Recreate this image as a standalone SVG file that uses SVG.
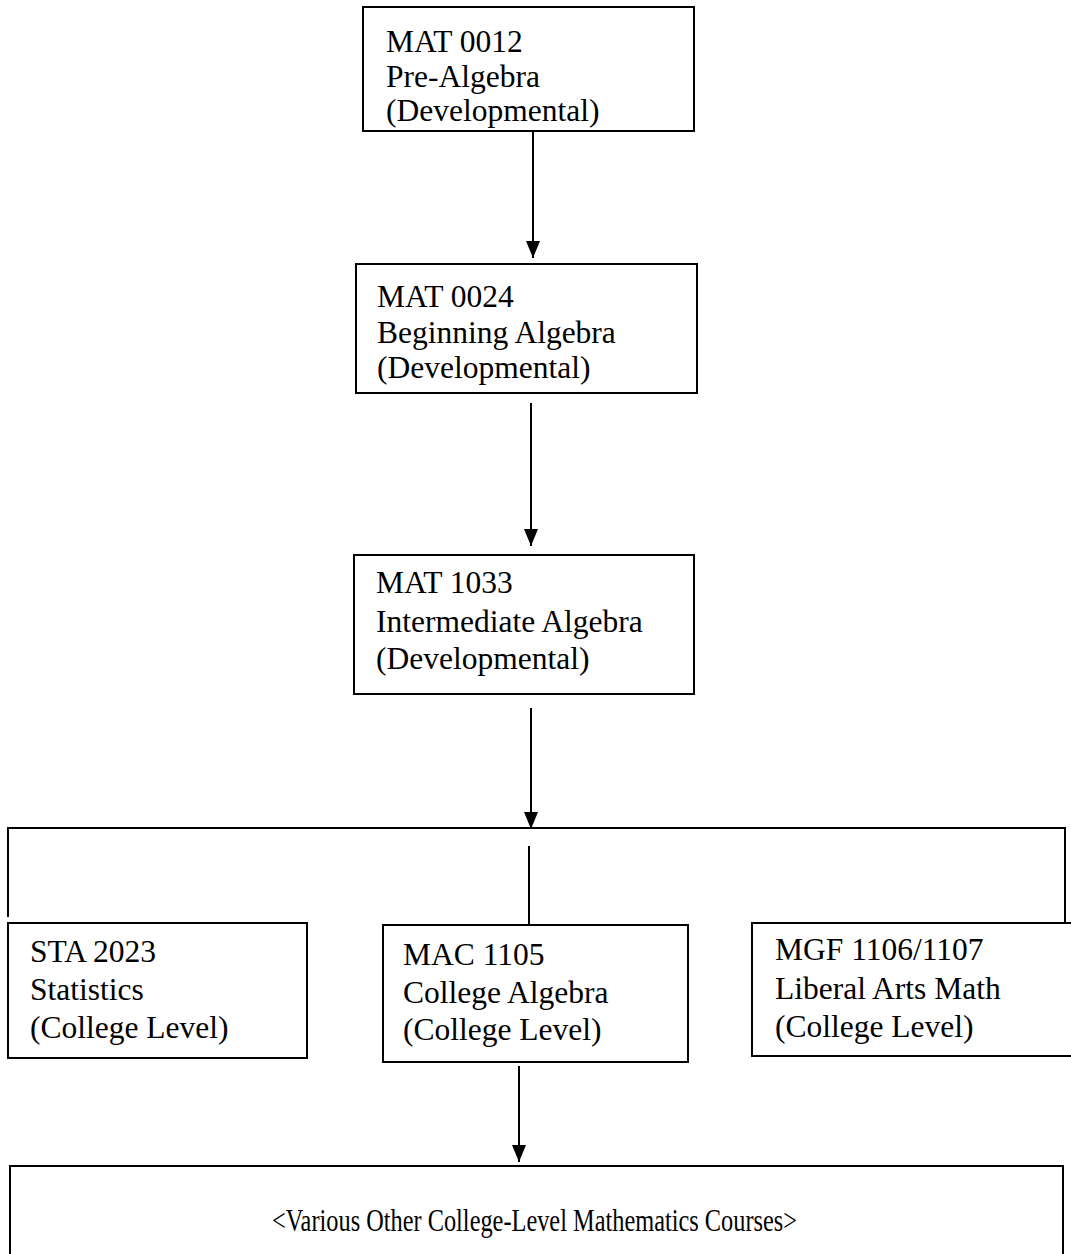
<svg xmlns="http://www.w3.org/2000/svg" width="1071" height="1254" viewBox="0 0 1071 1254">
<defs>
<marker id="ah" markerWidth="18" markerHeight="16" refX="17" refY="7" orient="auto" markerUnits="userSpaceOnUse">
<path d="M0,0 L17,7 L0,14 Z" fill="#000"/>
</marker>
<style>
.box{fill:#fff;stroke:#000;stroke-width:2}
.t{font-family:"Liberation Serif","Times New Roman",serif;font-size:31.5px;fill:#000}
.c{stroke:#000;stroke-width:2;fill:none}
</style>
</defs>
<rect width="1071" height="1254" fill="#fff"/>
<g id="connectors">
<line class="c" x1="533" y1="131" x2="533" y2="258" marker-end="url(#ah)"/>
<line class="c" x1="531" y1="403" x2="531" y2="546" marker-end="url(#ah)"/>
<line class="c" x1="531" y1="708" x2="531" y2="829" marker-end="url(#ah)"/>
<polyline class="c" points="8,917 8,828 1065,828 1065,922"/>
<line class="c" x1="529" y1="846" x2="529" y2="925"/>
<line class="c" x1="519" y1="1066" x2="519" y2="1162" marker-end="url(#ah)"/>
</g>
<g id="mat0012">
<rect class="box" x="363" y="7" width="331" height="124"/>
<text class="t" x="386" y="52">MAT 0012</text>
<text class="t" x="386" y="87">Pre-Algebra</text>
<text class="t" x="386" y="121">(Developmental)</text>
</g>
<g id="mat0024">
<rect class="box" x="356" y="264" width="341" height="129"/>
<text class="t" x="377" y="307">MAT 0024</text>
<text class="t" x="377" y="343">Beginning Algebra</text>
<text class="t" x="377" y="378">(Developmental)</text>
</g>
<g id="mat1033">
<rect class="box" x="354" y="555" width="340" height="139"/>
<text class="t" x="376" y="593">MAT 1033</text>
<text class="t" x="376" y="632">Intermediate Algebra</text>
<text class="t" x="376" y="669">(Developmental)</text>
</g>
<g id="sta2023">
<rect class="box" x="8" y="923" width="299" height="135"/>
<text class="t" x="30" y="962">STA 2023</text>
<text class="t" x="30" y="1000">Statistics</text>
<text class="t" x="30" y="1038">(College Level)</text>
</g>
<g id="mac1105">
<rect class="box" x="383" y="925" width="305" height="137"/>
<text class="t" x="403" y="965">MAC 1105</text>
<text class="t" x="403" y="1003">College Algebra</text>
<text class="t" x="403" y="1040">(College Level)</text>
</g>
<g id="mgf1106">
<rect class="box" x="752" y="923" width="340" height="133"/>
<text class="t" x="775" y="960">MGF 1106/1107</text>
<text class="t" x="775" y="999">Liberal Arts Math</text>
<text class="t" x="775" y="1037">(College Level)</text>
</g>
<g id="other">
<rect class="box" x="10" y="1166" width="1053" height="120"/>
<text class="t" x="272" y="1231" textLength="525" lengthAdjust="spacingAndGlyphs">&lt;Various Other College-Level Mathematics Courses&gt;</text>
</g>
</svg>
